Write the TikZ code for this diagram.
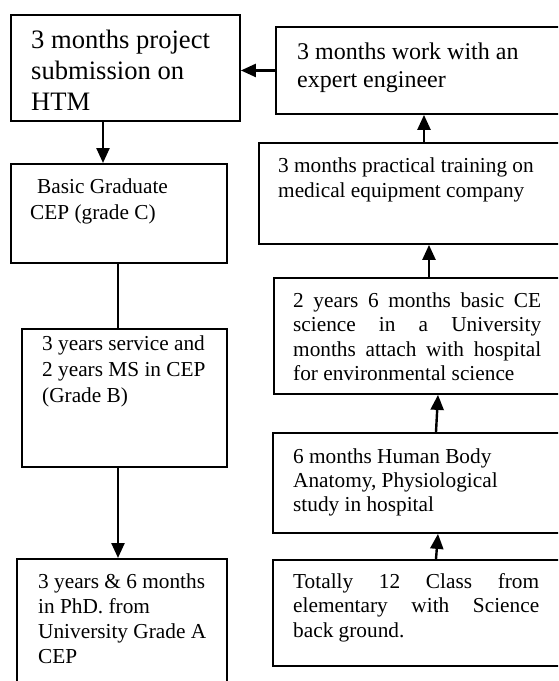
\documentclass[tikz,border=0pt]{standalone}
\usepackage{fontspec}
\setmainfont{Liberation Serif}
\usetikzlibrary{arrows.meta}
\begin{document}
\begin{tikzpicture}[x=1pt,y=-1pt,
  box/.style={draw, line width=1.9pt, rectangle, inner sep=0pt, anchor=north west},
  txt/.style={anchor=base west, inner sep=0pt},
  arr/.style={line width=2.4pt, -{Triangle[length=15pt,width=13pt]}},
  ln/.style={line width=1.9pt}]
\useasboundingbox (0,0) rectangle (558,681);
\clip (0,0) rectangle (558,681);
% boxes
\node[box, minimum width=229pt, minimum height=106pt] (A) at (10,14) {};
\node[box, minimum width=300pt, minimum height=87pt]  (B) at (275,26) {};
\node[box, minimum width=216pt, minimum height=99pt]  (C) at (10,163) {};
\node[box, minimum width=205pt, minimum height=138pt] (D) at (21,328) {};
\node[box, minimum width=210pt, minimum height=150pt] (E) at (16,558) {};
\node[box, minimum width=312pt, minimum height=101pt] (F) at (258,142) {};
\node[box, minimum width=297pt, minimum height=116pt] (G) at (273,277) {};
\node[box, minimum width=298pt, minimum height=100pt] (H) at (272,432) {};
\node[box, minimum width=298pt, minimum height=106pt] (I) at (272,559) {};
% texts
\node[txt] (tA) at (31,48) {\parbox[t]{220pt}{\fontsize{26.6}{31}\selectfont 3 months project\\submission on\\HTM}};
\node[txt] (tB) at (297,59) {\parbox[t]{260pt}{\fontsize{24}{28}\selectfont 3 months work with an\\expert engineer}};
\node[txt] (tC) at (30,193) {\parbox[t]{190pt}{\fontsize{21.3}{26}\selectfont \hspace*{7pt}Basic Graduate\\CEP (grade C)}};
\node[txt] (tD) at (42,350) {\parbox[t]{180pt}{\fontsize{21.3}{26}\selectfont 3 years service and\\2 years MS in CEP\\(Grade B)}};
\node[txt] (tE) at (38,588) {\parbox[t]{185pt}{\fontsize{21.3}{25}\selectfont 3 years \& 6 months\\in PhD. from\\University Grade A\\CEP}};
\node[txt] (tF) at (278,172) {\parbox[t]{280pt}{\fontsize{21.3}{25}\selectfont 3 months practical training on\\medical equipment company}};
\node[txt] (tG) at (293,307) {\parbox[t]{248pt}{\fontsize{21.3}{24.5}\selectfont
  \makebox[248pt][s]{2 years 6 months basic CE}\\
  \makebox[248pt][s]{science in a University}\\
  \makebox[248pt][s]{months attach with hospital}\\
  for environmental science}};
\node[txt] (tH) at (293,463) {\parbox[t]{248pt}{\fontsize{21.3}{24.2}\selectfont 6 months Human Body\\Anatomy, Physiological\\study in hospital}};
\node[txt] (tI) at (293,588) {\parbox[t]{246pt}{\fontsize{21.3}{24.8}\selectfont
  \makebox[246pt][s]{Totally 12 Class from}\\
  \makebox[246pt][s]{elementary with Science}\\
  back ground.}};
% connectors
\draw[arr] (B.west) -- (B.west -| A.east);
\draw[arr] ([xshift=93pt]A.south west) -- ([xshift=93pt]C.north west);
\draw[ln]  ([xshift=108pt]C.south west) -- ([xshift=97pt]D.north west);
\draw[arr] ([xshift=97pt]D.south west) -- ([xshift=102pt]E.north west);
\draw[arr] ([xshift=166pt]F.north west) -- ([xshift=149pt]B.south west);
\draw[arr] ([xshift=156pt]G.north west) -- ([xshift=171pt]F.south west);
\draw[arr] ([xshift=164pt]H.north west) -- ([xshift=165pt]G.south west);
\draw[arr] ([xshift=164pt]I.north west) -- ([xshift=166pt]H.south west);
\end{tikzpicture}
\end{document}
